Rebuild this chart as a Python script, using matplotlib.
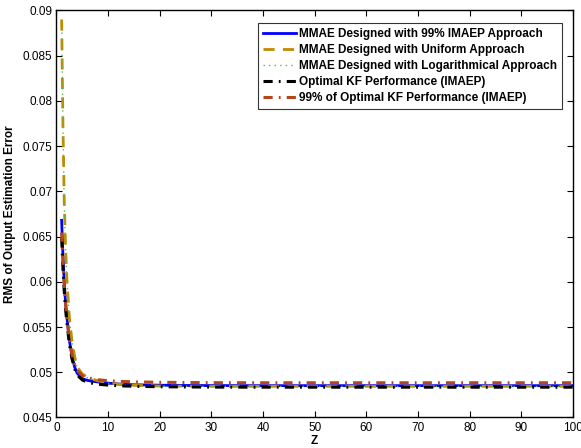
import matplotlib
matplotlib.use("Agg")
import matplotlib.pyplot as plt
from matplotlib.ticker import FixedLocator, FuncFormatter

plt.rcParams['font.family'] = ['Liberation Sans', 'DejaVu Sans']

# Z sample points
z = [1, 1.25, 1.5, 1.75, 2, 2.5, 3, 3.5, 4, 5, 6, 7, 8, 10, 12, 15, 20, 25, 30,
     40, 50, 60, 70, 80, 90, 100]

# RMS of output estimation error for each design
mmae_imaep = [0.0668, 0.0630, 0.0600, 0.0578, 0.0562, 0.0535, 0.0518, 0.0506,
              0.0499, 0.0493, 0.0491, 0.0490, 0.04893, 0.04880, 0.04870, 0.04862,
              0.04857, 0.04854, 0.04853, 0.04852, 0.04852, 0.04852, 0.04852,
              0.04852, 0.04852, 0.04852]
mmae_uniform = [0.0890, 0.0775, 0.0690, 0.0640, 0.0605, 0.0560, 0.0535, 0.0518,
                0.0506, 0.0498, 0.04945, 0.04925, 0.04905, 0.04885, 0.04868,
                0.04856, 0.04848, 0.04846, 0.04845, 0.04845, 0.04845, 0.04845,
                0.04845, 0.04845, 0.04845, 0.04845]
mmae_log = [0.0888, 0.0773, 0.0688, 0.0638, 0.0603, 0.0559, 0.0534, 0.0517,
            0.0505, 0.0497, 0.04940, 0.04920, 0.04900, 0.04880, 0.04865,
            0.04854, 0.04847, 0.04845, 0.04844, 0.04844, 0.04844, 0.04844,
            0.04844, 0.04844, 0.04844, 0.04844]
kf_optimal = [0.0648, 0.0615, 0.0590, 0.0570, 0.0556, 0.0531, 0.0515, 0.0504,
              0.0497, 0.04915, 0.0489, 0.04878, 0.04868, 0.04858, 0.04851,
              0.04845, 0.04840, 0.04838, 0.04836, 0.04835, 0.04835, 0.04835,
              0.04835, 0.04835, 0.04835, 0.04835]
kf_99 = [0.06545, 0.06212, 0.05960, 0.05758, 0.05616, 0.05364, 0.05202, 0.05091,
         0.05020, 0.04965, 0.04939, 0.04927, 0.04917, 0.04907, 0.04900, 0.04894,
         0.04889, 0.04887, 0.04885, 0.04884, 0.04884, 0.04884, 0.04884,
         0.04884, 0.04884, 0.04884]

labels = [
    'MMAE Designed with 99% IMAEP Approach',
    'MMAE Designed with Uniform Approach',
    'MMAE Designed with Logarithmical Approach',
    'Optimal KF Performance (IMAEP)',
    '99% of Optimal KF Performance (IMAEP)',
]

x_ticks = list(range(0, 101, 10))
y_ticks = [0.045, 0.05, 0.055, 0.06, 0.065, 0.07, 0.075, 0.08, 0.085, 0.09]

fig = plt.figure(figsize=(5.81, 4.48), dpi=100)
ax = fig.add_axes([0.0972, 0.0681, 0.889, 0.9085])

ax.plot(z, mmae_imaep, color='#0000FF', lw=2.0, ls='-', label=labels[0])
ax.plot(z, mmae_uniform, color='#C28A00', lw=2.0, ls=(0, (4, 3)), label=labels[1])
ax.plot(z, mmae_log, color='#55BB55', lw=1.0, ls=(0, (1, 3)), label=labels[2])
ax.plot(z, kf_optimal, color='black', lw=2.2, ls=(0, (3, 2, 0.6, 2)), label=labels[3])
ax.plot(z, kf_99, color='#B5461B', lw=2.2, ls=(0, (3, 2, 0.6, 2)), label=labels[4])

ax.set_xlim(0, 100)
ax.set_ylim(0.045, 0.09)
ax.xaxis.set_major_locator(FixedLocator(x_ticks))
ax.yaxis.set_major_locator(FixedLocator(y_ticks))
ax.yaxis.set_major_formatter(FuncFormatter(lambda v, p: '%g' % round(v, 4)))
ax.tick_params(direction='in', top=True, right=True, length=4, width=0.8,
               labelsize=8.5, pad=3)
for s in ax.spines.values():
    s.set_linewidth(1.0)

ax.set_xlabel('Z', fontsize=8.5, fontweight='bold', labelpad=1)
ax.set_ylabel('RMS of Output Estimation Error', fontsize=8.5, fontweight='bold',
              labelpad=5)

leg = ax.legend(loc='upper right', bbox_to_anchor=(0.979, 0.9686),
                prop={'weight': 'bold', 'size': 8.5}, frameon=True,
                fancybox=False, edgecolor='black', handlelength=2.8,
                handletextpad=0.3, labelspacing=0.33, borderpad=0.42,
                borderaxespad=0)
leg.get_frame().set_linewidth(0.8)

fig.savefig('out.png', dpi=100)
